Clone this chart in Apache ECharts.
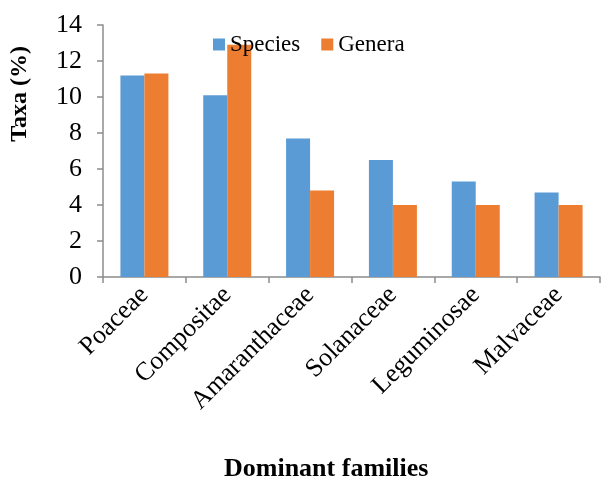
<!DOCTYPE html>
<html>
<head>
<meta charset="utf-8">
<script src="https://cdn.jsdelivr.net/npm/echarts@6/dist/echarts.min.js"></script>
<style>
  html, body { margin: 0; padding: 0; background: #fff; }
  #main { width: 605px; height: 478px; }
</style>
</head>
<body>
<div id="main"></div>
<script>
var families = ['Poaceae', 'Compositae', 'Amaranthaceae', 'Solanaceae', 'Leguminosae', 'Malvaceae'];
var species = [11.2, 10.1, 7.7, 6.5, 5.3, 4.7];
var genera = [11.3, 12.9, 4.8, 4.0, 4.0, 4.0];

var serif = '"Liberation Serif", "Times New Roman", serif';
var axisGray = '#8c8c8c';

var myChart = echarts.init(document.getElementById('main'));
myChart.setOption({
    animation: false,
    textStyle: { fontFamily: serif, color: '#000' },
    grid: { left: 103, right: 5, top: 25, bottom: 201 },
    legend: {
        left: 208, top: 28,
        itemWidth: 12, itemHeight: 12, itemGap: 21,
        icon: 'rect',
        textStyle: { fontFamily: serif, fontSize: 23, color: '#000' },
        data: ['Species', 'Genera']
    },
    graphic: [
        {
            type: 'text', left: 8, top: 46, rotation: Math.PI / 2,
            style: { text: 'Taxa (%)', font: 'bold 24px ' + serif, fill: '#000' }
        },
        {
            type: 'text', left: 224, top: 456,
            style: { text: 'Dominant families', font: 'bold 26px ' + serif, fill: '#000' }
        }
    ],
    xAxis: {
        type: 'category',
        data: families,
        axisLine: { lineStyle: { color: axisGray, width: 1.5 } },
        axisTick: { show: true, length: 6, lineStyle: { color: axisGray, width: 1.5 } },
        axisLabel: { rotate: 45, fontSize: 26, color: '#000', fontFamily: serif, margin: 14 }
    },
    yAxis: {
        type: 'value',
        min: 0, max: 14, interval: 2,
        splitLine: { show: false },
        axisLine: { show: true, lineStyle: { color: axisGray, width: 1.5 } },
        axisTick: { show: true, length: 6, lineStyle: { color: axisGray, width: 1.5 } },
        axisLabel: { fontSize: 26, color: '#000', fontFamily: serif, margin: 21 }
    },
    series: [
        {
            name: 'Species', type: 'bar', data: species,
            barWidth: 24, barGap: '0%',
            itemStyle: { color: '#5b9bd5' }
        },
        {
            name: 'Genera', type: 'bar', data: genera,
            barWidth: 24,
            itemStyle: { color: '#ed7d31' }
        }
    ]
});
</script>
</body>
</html>
